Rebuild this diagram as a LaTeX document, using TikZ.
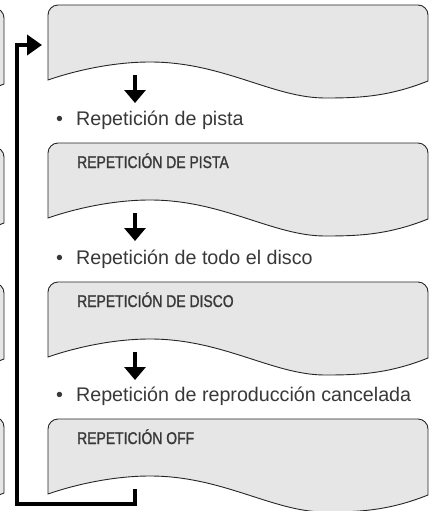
\documentclass[tikz,border=0pt]{standalone}
\usepackage{fontspec}
\setmainfont{Liberation Sans}
\newfontfamily\condfont[FakeStretch=0.82,FakeBold=1.2]{Liberation Sans}
\usetikzlibrary{arrows.meta,positioning,calc}
\definecolor{pant}{HTML}{E6E6E6}
\definecolor{tinta}{HTML}{383838}

\begin{document}
\begin{tikzpicture}[
				x=1pt,y=-1pt,
				pantalla/.pic={
					\filldraw[fill=pant,draw=black!85,line width=0.9pt]
					(0,75) -- (0,10) .. controls (0,4.5) and (4.5,0) .. (10,0)
					-- (370,0) .. controls (375.5,0) and (380,4.5) .. (380,10)
					-- (380,76) .. controls (340,92) and (310,93) .. (277,93)
					.. controls (225,93) and (175,57) .. (102,57)
					.. controls (60,57) and (20,68) .. cycle;
					\coordinate (-sal) at (87,70);
					\coordinate (-fin) at (87,98);
					\coordinate (-ent) at (-6,40);
					\coordinate (-lbl) at (29,25);
				},
				rotulo/.style={anchor=base west,inner sep=0pt,text=tinta,
					font=\condfont\fontsize{17}{19}\selectfont},
				paso/.style={anchor=base west,inner sep=0pt,text=tinta,
					font=\fontsize{19.7}{22}\selectfont},
				baja/.style={-{Triangle[length=13pt,width=21pt]},line width=4pt},
				vuelta/.style={-{Triangle[length=15pt,width=20pt]},line width=4pt,miter limit=10},
				]
				\useasboundingbox (0,0) rectangle (430,511);
				
				% columna vecina, solo asoma el borde
				\begin{scope}
					\clip (0,0) rectangle (430,511);
					\foreach \t in {8,147,283,417}
					{\pic at (-376,\t) {pantalla};}
				\end{scope}
				
				\pic (p1) at (48,5) {pantalla};
				\pic (p2) at (48,143) {pantalla};
				\pic (p3) at (48,282) {pantalla};
				\pic (p4) at (48,419) {pantalla};
				
				\node[rotulo] (r2) at (p2-lbl) {REPETICIÓN DE PISTA};
				\node[rotulo] (r3) at (p3-lbl) {REPETICIÓN DE DISCO};
				\node[rotulo] (r4) at (p4-lbl) {REPETICIÓN OFF};
				
				\node[paso] (t1) at (56,125) {•\hspace{13pt}Repetición de pista};
				\node[paso] (t2) at (56,264) {•\hspace{13pt}Repetición de todo el disco};
				\node[paso] (t3) at (56,401) {•\hspace{13pt}Repetición de reproducción cancelada};
				
				\foreach \p in {p1,p2,p3}
				{\draw[baja] (\p-sal) -- (\p-fin);}
				
				\coordinate (esq) at (17,504);
				\draw[vuelta] (p4-sal) |- (esq) |- (p1-ent);
		\end{tikzpicture}
\end{document}
